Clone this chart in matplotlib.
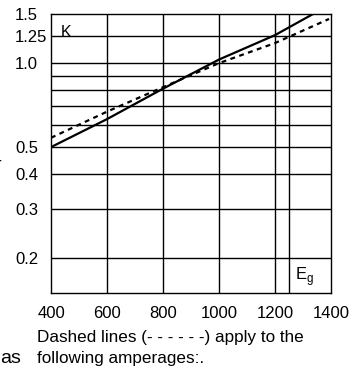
import matplotlib
matplotlib.use('Agg')
import matplotlib.pyplot as plt
from matplotlib.ticker import FixedLocator, NullFormatter

plt.rcParams['font.family'] = ['Liberation Sans', 'DejaVu Sans']

# valores
eg_solida = [400, 600, 800, 1000, 1200, 1336]
k_solida = [0.50, 0.63, 0.81, 1.03, 1.26, 1.50]
eg_trazos = [400, 600, 800, 1000, 1200, 1393]
k_trazos = [0.54, 0.67, 0.82, 1.00, 1.18, 1.44]

x_grilla = [600, 800, 1000, 1200, 1250]
x_ticks = [400, 600, 800, 1000, 1200, 1400]
y_ticks = [0.2, 0.3, 0.4, 0.5, 1.0, 1.25, 1.5]
y_etiquetas = ['0.2', '0.3', '0.4', '0.5', '1.0', '1.25', '1.5']
y_grilla = [0.2, 0.3, 0.4, 0.5, 0.6, 0.7, 0.8, 0.9, 1.0, 1.25]

fig = plt.figure(figsize=(3.5, 3.71), dpi=100)
ax = fig.add_axes([51 / 350, 1 - 293 / 371, 280 / 350, 279 / 371])

ax.set_yscale('log')
ax.set_xlim(400, 1400)
ax.set_ylim(0.15, 1.5)

for x in x_grilla:
    ax.axvline(x, color='black', lw=1.0, zorder=1)
for y in y_grilla:
    ax.axhline(y, color='black', lw=1.0, zorder=1)

ax.plot(eg_solida, k_solida, color='black', lw=1.6, zorder=3)
ax.plot(eg_trazos, k_trazos, color='black', lw=1.6, dashes=(2.2, 2.0), zorder=3)

ax.xaxis.set_major_locator(FixedLocator(x_ticks))
ax.yaxis.set_major_locator(FixedLocator(y_ticks))
ax.yaxis.set_minor_locator(FixedLocator([]))
ax.yaxis.set_minor_formatter(NullFormatter())
ax.set_yticklabels(y_etiquetas)
ax.tick_params(axis='both', which='both', length=0, labelsize=12)
ax.tick_params(axis='x', pad=9)
ax.tick_params(axis='y', pad=26)
for lab in ax.get_yticklabels():
    lab.set_horizontalalignment('left')

for s in ax.spines.values():
    s.set_linewidth(1.0)

ax.text(0.035, 0.962, 'K', transform=ax.transAxes, fontsize=11.5,
        ha='left', va='top')
ax.text(0.87, 0.047, r'E$_{\mathregular{g}}$', transform=ax.transAxes,
        fontsize=12, ha='left', va='baseline')

fig.text(37 / 350, 1 - 342 / 371, 'Dashed lines (- - - - - -) apply to the',
         fontsize=12.3, ha='left', va='baseline')
fig.text(37 / 350, 1 - 363 / 371, 'following amperages:.',
         fontsize=12.3, ha='left', va='baseline')
fig.text(0.0, 1 - 363 / 371, 'as', fontsize=14, ha='left', va='baseline')
fig.text(-5 / 350, 1 - 170 / 371, 'r', fontsize=14, ha='left', va='baseline')

fig.savefig('out.png', dpi=100)
